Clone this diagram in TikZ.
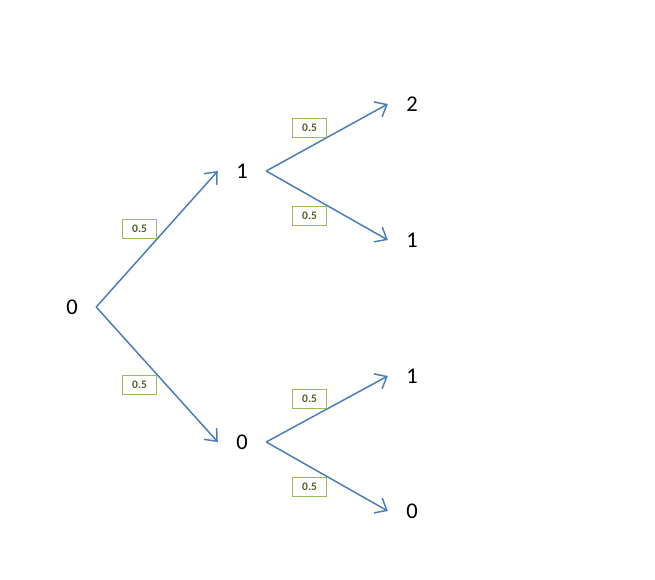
\documentclass[tikz,border=0pt]{standalone}
\usepackage{fontspec}
\setmainfont{Carlito}
\usetikzlibrary{arrows.meta}
\definecolor{lineblue}{HTML}{4A7EBB}
\definecolor{boxgreen}{HTML}{9BBB59}
\definecolor{textolive}{HTML}{4F6228}
\tikzset{ num/.style = { inner sep     = 0pt
                       , minimum width = 48pt
                       , font          = \fontsize{22.5}{22.5}\selectfont
                       },
          prob/.style = { draw           = boxgreen
                        , fill           = white
                        , text           = textolive
                        , line width     = 0.9pt
                        , inner sep      = 0pt
                        , minimum width  = 34pt
                        , minimum height = 19pt
                        , font           = \bfseries\fontsize{11.5}{11.5}\selectfont
                        , pos            = 0.5
                        },
          arr/.style = { draw       = lineblue
                       , line width = 1.5pt
                       , -{Straight Barb[length=10pt, width=17pt]}
                       }
        }

\begin{document}
\begin{tikzpicture}[x=1pt, y=-1pt]
    \useasboundingbox (0,0) rectangle (655,579);
    % values
    \node[num] (n0) at (72,307) {0};
    \node[num] (n1) at (242,171) {1};
    \node[num] (n2) at (242,442) {0};
    \node[num] (n3) at (412,104) {2};
    \node[num] (n4) at (412,240) {1};
    \node[num] (n5) at (412,376) {1};
    \node[num] (n6) at (412,511) {0};
    % steps
    \draw[arr] (n0.east) -- (n1.west) node[prob, anchor=south east] {0.5};
    \draw[arr] (n0.east) -- (n2.west) node[prob, anchor=north east] {0.5};
    \draw[arr] (n1.east) -- (n3.west) node[prob, anchor=south east] {0.5};
    \draw[arr] (n1.east) -- (n4.west) node[prob, anchor=north east] {0.5};
    \draw[arr] (n2.east) -- (n5.west) node[prob, anchor=south east] {0.5};
    \draw[arr] (n2.east) -- (n6.west) node[prob, anchor=north east] {0.5};
\end{tikzpicture}
\end{document}
